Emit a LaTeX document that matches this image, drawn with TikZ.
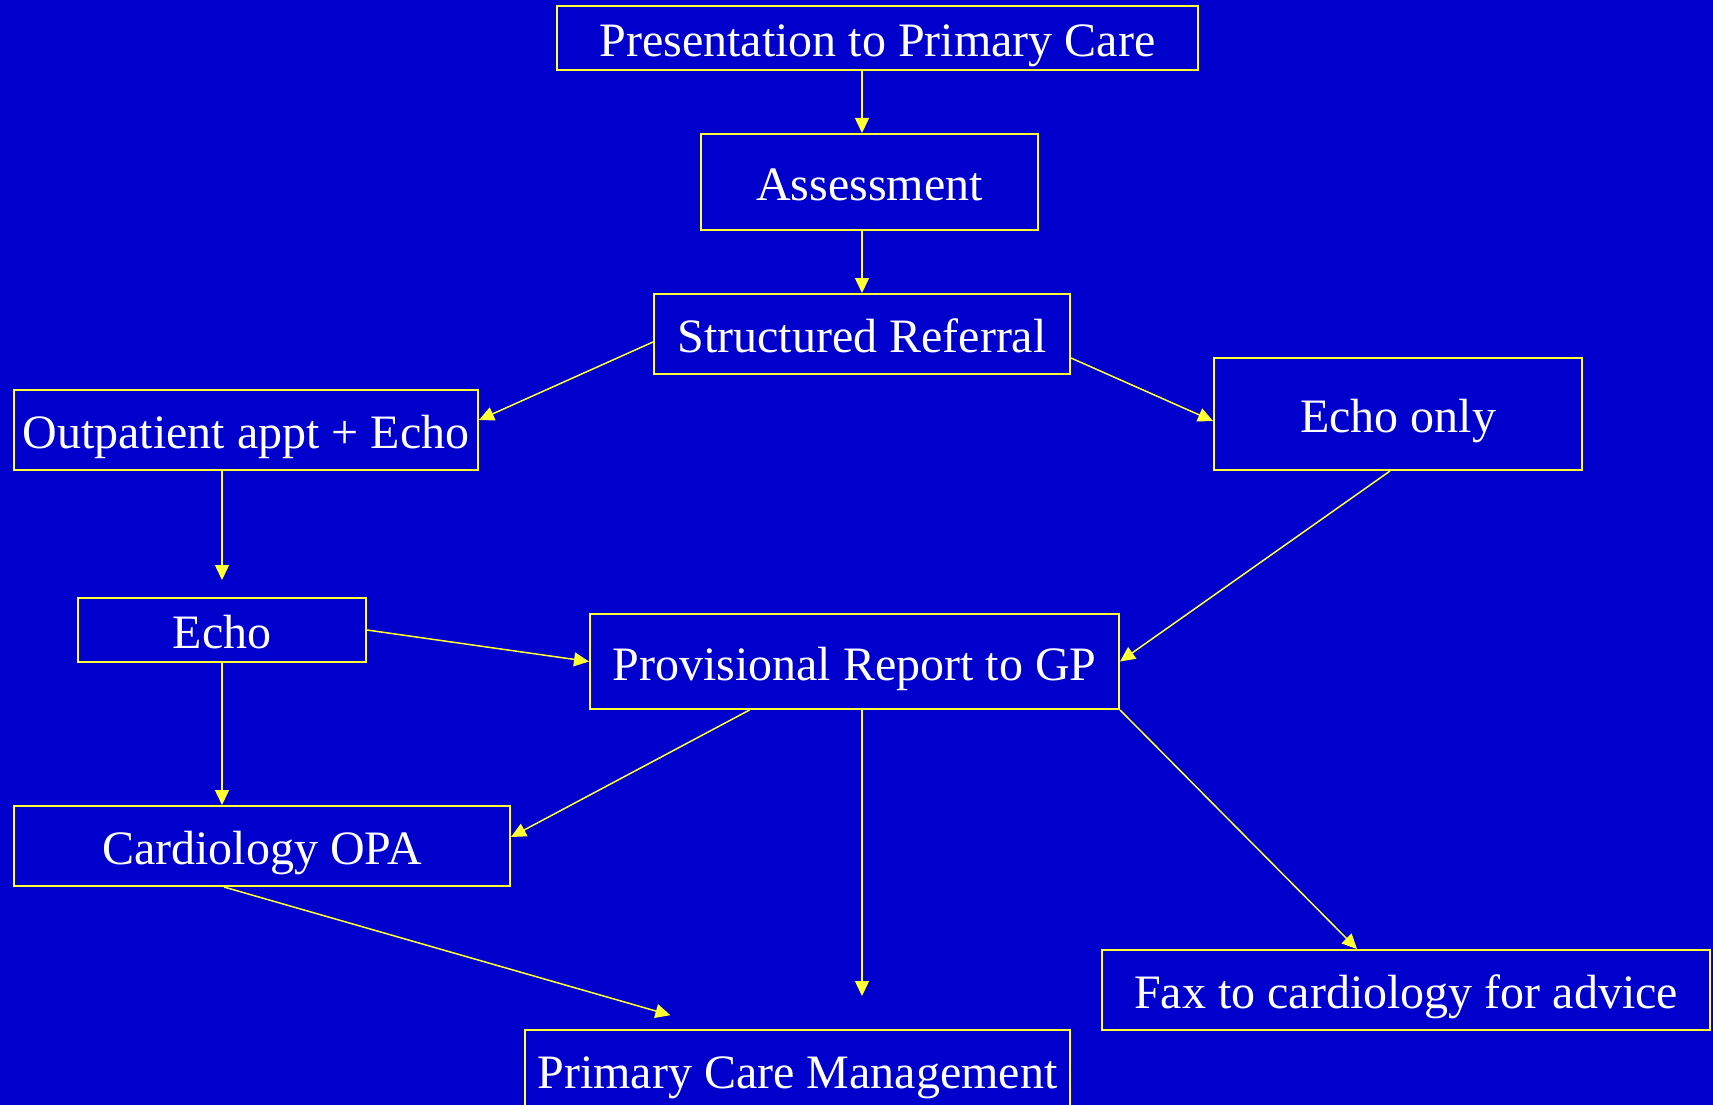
\documentclass[tikz,border=0pt]{standalone}
\usepackage{fontspec}
\setmainfont{Liberation Serif}
\usepackage{xcolor}
\usetikzlibrary{arrows.meta}

\definecolor{sfondo}{RGB}{0,0,204}
\definecolor{giallo}{RGB}{255,255,51}

\tikzset{
    riquadro/.style={draw=giallo, line width=2pt, text=white, inner sep=0pt,
        text height=37pt, text depth=0pt, font=\fontsize{48}{56}\selectfont},
    freccia/.style={draw=giallo, line width=1.5pt, -{Triangle[length=15pt,width=14pt]}}
}

\begin{document}
\begin{tikzpicture}[x=1pt, y=-1pt]
        % Sfondo
        \fill[sfondo] (0,0) rectangle (1713,1105);
        \useasboundingbox (0,0) rectangle (1713,1105);

        % Riquadri
        \node[riquadro, minimum width=641pt, minimum height=64pt] (pres) at (877.5,38) {Presentation to Primary Care};
        \node[riquadro, minimum width=337pt, minimum height=96pt] (assess) at (869.5,182) {Assessment};
        \node[riquadro, minimum width=416pt, minimum height=80pt] (sr) at (862,334) {Structured Referral};
        \node[riquadro, minimum width=464pt, minimum height=80pt] (opd) at (246,430) {Outpatient appt + Echo};
        \node[riquadro, minimum width=368pt, minimum height=112pt] (echoonly) at (1398,414) {Echo only};
        \node[riquadro, minimum width=288pt, minimum height=64pt] (echo) at (222,630) {Echo};
        \node[riquadro, minimum width=529pt, minimum height=95pt] (prov) at (854.5,661.5) {Provisional Report to GP};
        \node[riquadro, minimum width=496pt, minimum height=80pt] (cardio) at (262,846) {Cardiology OPA};
        \node[riquadro, minimum width=608pt, minimum height=80pt] (fax) at (1406,990) {Fax to cardiology for advice};
        \node[riquadro, minimum width=545pt, minimum height=80pt] (pcm) at (797.5,1070) {Primary Care Management};

        % Frecce
        \draw[freccia] (pres.south -| sr) -- (assess.north -| sr);
        \draw[freccia] (assess.south -| sr) -- (sr.north);
        \draw[freccia] ([yshift=-8pt]sr.west) -- ([yshift=10pt]opd.east);
        \draw[freccia] ([yshift=-24pt]sr.east) -- ([yshift=-7pt]echoonly.west);
        \draw[freccia, shorten >=17pt] (opd.south -| echo) -- (echo.north);
        \draw[freccia] (echo.south) -- (echo.south |- cardio.north);
        \draw[freccia] (echo.east) -- (prov.west);
        \draw[freccia] ([xshift=-8pt]echoonly.south) -- (prov.east);
        \draw[freccia] ([xshift=-105pt]prov.south) -- ([yshift=9pt]cardio.east);
        \draw[freccia, shorten >=33pt] (sr |- prov.south) -- (sr |- pcm.north);
        \draw[freccia] (prov.south east) -- ([xshift=-49pt]fax.north);
        \draw[freccia, shorten >=50pt] ([xshift=-38pt]cardio.south) -- ([xshift=-79pt]pcm.north);
    \end{tikzpicture}
\end{document}
